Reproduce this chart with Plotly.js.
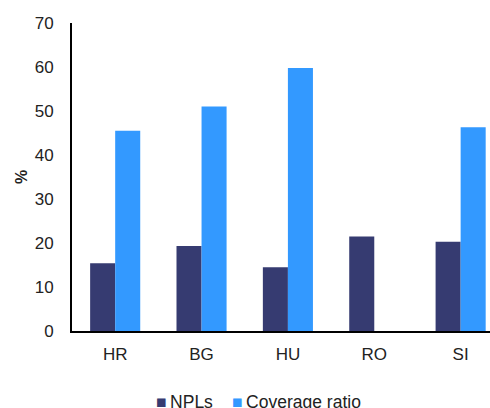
<!DOCTYPE html>
<html>
<head>
<meta charset="utf-8">
<script src="https://cdn.plot.ly/plotly-3.0.1.min.js"></script>
<style>html,body{margin:0;padding:0;background:#fff;}#chart{width:490px;height:408px;}</style>
</head>
<body>
<div id="chart"></div>
<script>
const categories = ["HR", "BG", "HU", "RO", "SI"];
const npls = [15.4, 19.3, 14.5, 21.5, 20.3];
const coverage = [45.5, 51.0, 59.8, null, 46.3];
const seriesNames = ["NPLs", "Coverage ratio"];
const seriesColors = ["#363B71", "#3399FF"];
const yTicks = [0, 10, 20, 30, 40, 50, 60, 70];

const FONT = "Liberation Sans, Arial, sans-serif";
const W = 490, H = 408, ML = 72, MR = 0, MT = 23, MB = 77;
const pw = W - ML - MR, ph = H - MT - MB;
const px2x = p => (p - ML) / pw;
const py2y = p => (H - MB - p) / ph;

const traces = seriesNames.map((name, i) => ({
  type: "bar", name: name, x: categories, y: i === 0 ? npls : coverage,
  marker: {color: seriesColors[i], line: {width: 0}}, hoverinfo: "x+y"
}));

// legend drawn as text (reference legend places the swatch right next to the label)
const legendX = [154, 230];
const annotations = seriesNames.map((name, i) => ({
  xref: "paper", yref: "paper", x: px2x(legendX[i]), y: py2y(402),
  xanchor: "left", yanchor: "middle", showarrow: false,
  text: "<span style='color:" + seriesColors[i] + "'>■</span>\u2009" + name,
  font: {family: FONT, size: 17.5, color: "#222"}
}));

const layout = {
  width: W, height: H,
  margin: {l: ML, r: MR, t: MT, b: MB, autoexpand: false},
  paper_bgcolor: "#fff", plot_bgcolor: "#fff",
  font: {family: FONT, size: 16, color: "#222"},
  barmode: "group", bargap: 0.42, bargroupgap: 0,
  showlegend: false,
  annotations: annotations,
  xaxis: {type: "category", range: [-0.5, 4.34], showline: true, linecolor: "#000", linewidth: 2,
          ticks: "", showgrid: false, zeroline: false, tickfont: {size: 17}, ticklabelstandoff: 7, fixedrange: true},
  yaxis: {range: [0, 70], tickvals: yTicks, ticktext: yTicks.map(String), showline: true, linecolor: "#000", linewidth: 2,
          ticks: "", showgrid: false, zeroline: false, tickfont: {size: 17}, ticklabelstandoff: 13,
          title: {text: "<b>%</b>", font: {size: 16}, standoff: 3}, fixedrange: true}
};
Plotly.newPlot("chart", traces, layout, {displayModeBar: false, staticPlot: true});
</script>
</body>
</html>
